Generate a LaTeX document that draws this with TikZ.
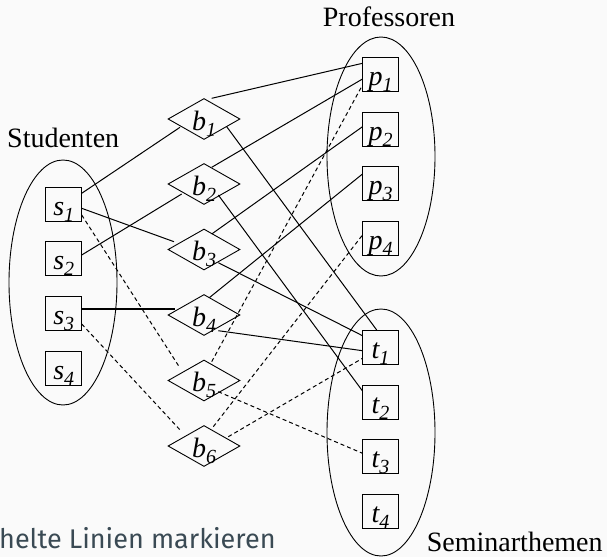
\documentclass[tikz,border=0pt]{standalone}
\usepackage{fontspec}
\setmainfont{Liberation Serif}
\newfontfamily\notefont{Fira Sans}
\usetikzlibrary{shapes.geometric,calc}
\definecolor{bgc}{RGB}{250,250,250}
\definecolor{notec}{RGB}{58,74,84}
\newcommand{\lab}[2]{\smash{\makebox[0pt][c]{\raisebox{-11pt}{\fontsize{28}{28}\selectfont\itshape #1\raisebox{-6pt}{\fontsize{20}{20}\selectfont #2}}}}}
\tikzset{
  boxnode/.style={draw, rectangle, minimum width=36pt, minimum height=34pt, inner sep=0pt, line width=0.9pt},
  dianode/.style={draw, diamond, minimum width=72pt, minimum height=41pt, inner sep=0pt, line width=0.9pt},
  groupnode/.style={draw, ellipse, inner sep=0pt, line width=0.9pt},
  title/.style={anchor=base west, inner sep=0pt, font=\fontsize{28}{28}\selectfont},
  link/.style={line width=1pt},
  dlink/.style={line width=1pt, dash pattern=on 4pt off 3pt},
  thicklink/.style={line width=2pt}
}
\begin{document}
\begin{tikzpicture}[x=1pt,y=-1pt]
\fill[bgc] (0,0) rectangle (607,557);
\useasboundingbox (0,0) rectangle (607,557);
% group ellipses
\node[groupnode, minimum width=108pt, minimum height=245pt] (SG) at (63,282.5) {};
\node[groupnode, minimum width=108pt, minimum height=239pt] (PG) at (381,156.5) {};
\node[groupnode, minimum width=108pt, minimum height=247pt] (TG) at (381,432.5) {};
% titles
\node[title] (Stud) at (7,147) {Studenten};
\node[title] (Prof) at (322.7,26) {Professoren};
\node[title] (Sem) at (426.7,551.5) {Seminarthemen};
% students
\node[boxnode] (s1) at (63.7,204) {\lab{s}{1}};
\node[boxnode] (s2) at (63.7,258.7) {\lab{s}{2}};
\node[boxnode] (s3) at (63.7,313.3) {\lab{s}{3}};
\node[boxnode] (s4) at (63.7,368) {\lab{s}{4}};
% b diamonds
\node[dianode] (b1) at (204,119) {\lab{b}{1}};
\node[dianode] (b2) at (204,184) {\lab{b}{2}};
\node[dianode] (b3) at (204,249.5) {\lab{b}{3}};
\node[dianode] (b4) at (204,315) {\lab{b}{4}};
\node[dianode] (b5) at (204,380.5) {\lab{b}{5}};
\node[dianode] (b6) at (204,446) {\lab{b}{6}};
% professors
\node[boxnode] (p1) at (380.5,74.3) {\lab{p}{1}};
\node[boxnode] (p2) at (380.5,129) {\lab{p}{2}};
\node[boxnode] (p3) at (380.5,183.7) {\lab{p}{3}};
\node[boxnode] (p4) at (380.5,238) {\lab{p}{4}};
% topics
\node[boxnode] (t1) at (380.5,347) {\lab{t}{1}};
\node[boxnode] (t2) at (380.5,402) {\lab{t}{2}};
\node[boxnode] (t3) at (380.5,456.3) {\lab{t}{3}};
\node[boxnode] (t4) at (380.5,511) {\lab{t}{4}};
% connectors
\draw[link] ($(s1)+(18,-10.7)$) -- ($(b1)+(-24,8.3)$);
\draw[link] ($(s1)+(18,4.3)$) -- ($(b3)+(-30,-7.8)$);
\draw[dlink] ($(s1)+(18,11)$) -- ($(b5)+(-24,-12.5)$);
\draw[link] ($(s2)+(18,-3.7)$) -- ($(b2)+(-22.3,10)$);
\draw[thicklink] ($(s3)+(18,-4)$) -- ($(b4)+(-29,-5.7)$);
\draw[dlink] ($(s3)+(18,10.7)$) -- ($(b6)+(-22.3,-14.3)$);
\draw[link] ($(b1)+(7.7,-20.7)$) -- ($(p1)+(-18,-11)$);
\draw[link] ($(b1)+(22.7,7.7)$) -- ($(t1)+(-3.8,-17)$);
\draw[link] ($(b2)+(7.7,-16.7)$) -- ($(p1)+(-18,4.7)$);
\draw[link] ($(b2)+(14.3,11)$) -- ($(t2)+(-18,-11)$);
\draw[link] ($(b3)+(7.7,-15.5)$) -- ($(p2)+(-18,-2.3)$);
\draw[link] ($(b3)+(14.3,13.2)$) -- ($(t1)+(-18,-11.3)$);
\draw[link] ($(b4)+(5.4,-17.4)$) -- ($(p3)+(-18,-9.7)$);
\draw[link] ($(b4)+(14.3,15.7)$) -- ($(t1)+(-18,3.7)$);
\draw[dlink] ($(b5)+(7.7,-18.8)$) -- ($(p1)+(-18,10.7)$);
\draw[dlink] ($(b5)+(14.3,11.2)$) -- ($(t3)+(-18,-3)$);
\draw[dlink] ($(b6)+(9.3,-19.3)$) -- ($(p4)+(-18,-3)$);
\draw[dlink] ($(b6)+(24.3,-9.3)$) -- ($(t1)+(-18,11.3)$);
% bottom note
\node[anchor=base west, inner sep=0pt, text=notec, font=\notefont\fontsize{27}{27}\selectfont] (note) at (-1,548) {helte Linien markieren};
\end{tikzpicture}
\end{document}
